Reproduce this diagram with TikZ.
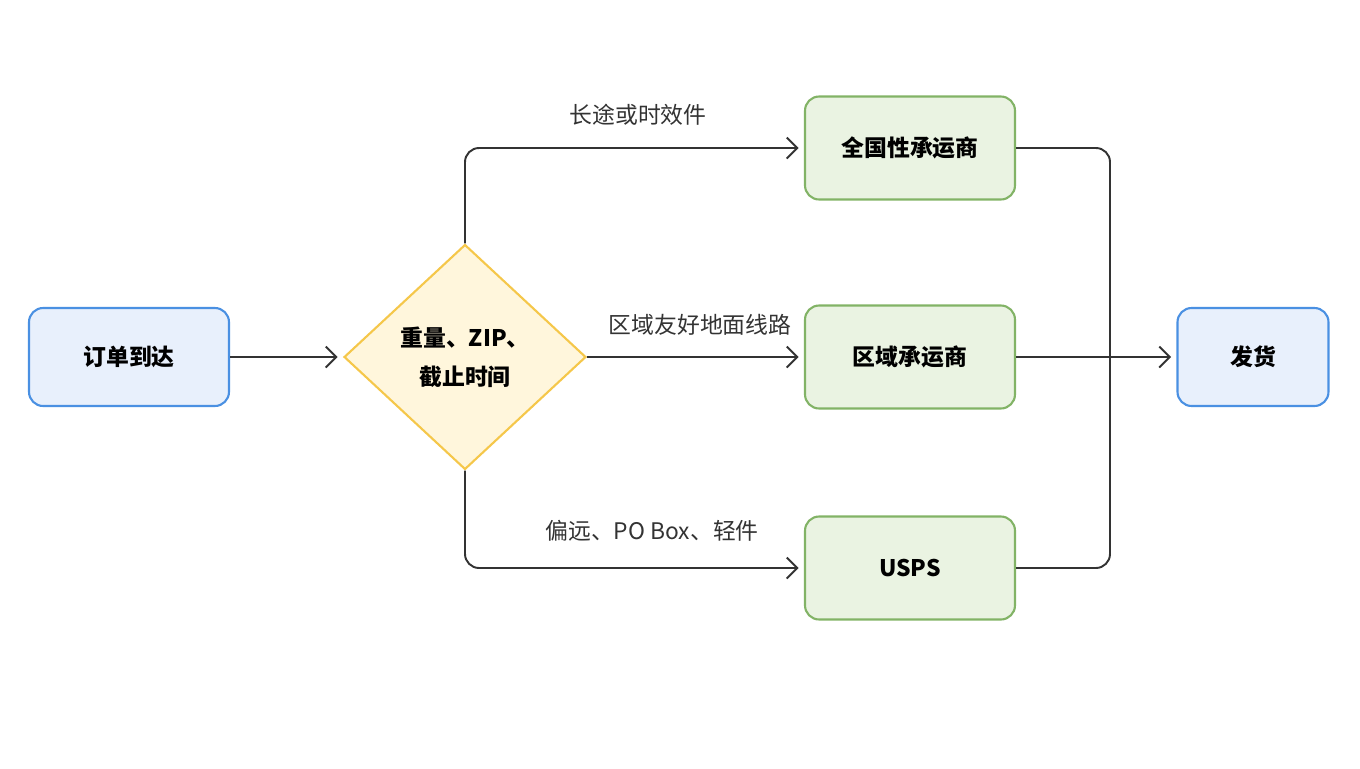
\documentclass[tikz,border=0pt]{standalone}
\usepackage{fontspec}
\setmainfont{Noto Sans CJK SC}
\usetikzlibrary{shapes.geometric,arrows.meta}
\definecolor{bluefill}{HTML}{E8F0FC}
\definecolor{blueline}{HTML}{4A90E2}
\definecolor{greenfill}{HTML}{EAF3E2}
\definecolor{greenline}{HTML}{82B366}
\definecolor{yellowfill}{HTML}{FFF6DC}
\definecolor{yellowline}{HTML}{F5C74A}
\definecolor{edgecol}{HTML}{333333}
\tikzset{
  startbox/.style={draw=blueline, fill=bluefill, line width=1.2pt, rounded corners=8pt,
    minimum width=4cm, minimum height=1.96cm, font=\fontsize{13}{15}\selectfont\bfseries},
  carrier/.style={draw=greenline, fill=greenfill, line width=1.2pt, rounded corners=8pt,
    minimum width=4.2cm, minimum height=2.06cm, font=\fontsize{13}{15}\selectfont\bfseries},
  decide/.style={diamond, draw=yellowline, fill=yellowfill, line width=1.2pt,
    minimum width=4.84cm, minimum height=4.5cm, inner sep=0pt, align=center,
    font=\fontsize{13}{22}\selectfont\bfseries},
  flow/.style={draw=edgecol, line width=1.1pt, rounded corners=8pt, shorten >=3pt,
    -{Straight Barb[length=6pt,width=12pt,line width=1.1pt]}},
  lbl/.style={font=\fontsize{13}{15}\selectfont, text=edgecol}
}
\begin{document}
\begin{tikzpicture}[x=0.02cm, y=-0.02cm]
\useasboundingbox (0,0) rectangle (1360,768);

\node[startbox] (order) at (129,357) {订单到达};
\node[decide] (check) at (465,357) {重量、ZIP、\\截止时间};
\node[carrier] (national) at (910,148) {全国性承运商};
\node[carrier] (regional) at (910,357) {区域承运商};
\node[carrier] (usps) at (910,568) {USPS};
\node[startbox, minimum width=3.02cm] (ship) at (1253,357) {发货};
\coordinate (merge) at (1110,357);

\draw[flow] (order) -- (check);
\draw[flow] (check.north) |- (national.west);
\draw[flow] (check.east) -- (regional.west);
\draw[flow] (check.south) |- (usps.west);
\node[lbl] (lnat) at (638,115) {长途或时效件};
\node[lbl] (lreg) at (700,325) {区域友好地面线路};
\node[lbl] (lusps) at (652,531) {偏远、PO Box、轻件};

\draw[flow, -, shorten >=0pt] (national.east) -| (merge);
\draw[flow, -, shorten >=0pt] (usps.east) -| (merge);
\draw[flow] (regional.east) -- (ship.west);
\end{tikzpicture}
\end{document}
